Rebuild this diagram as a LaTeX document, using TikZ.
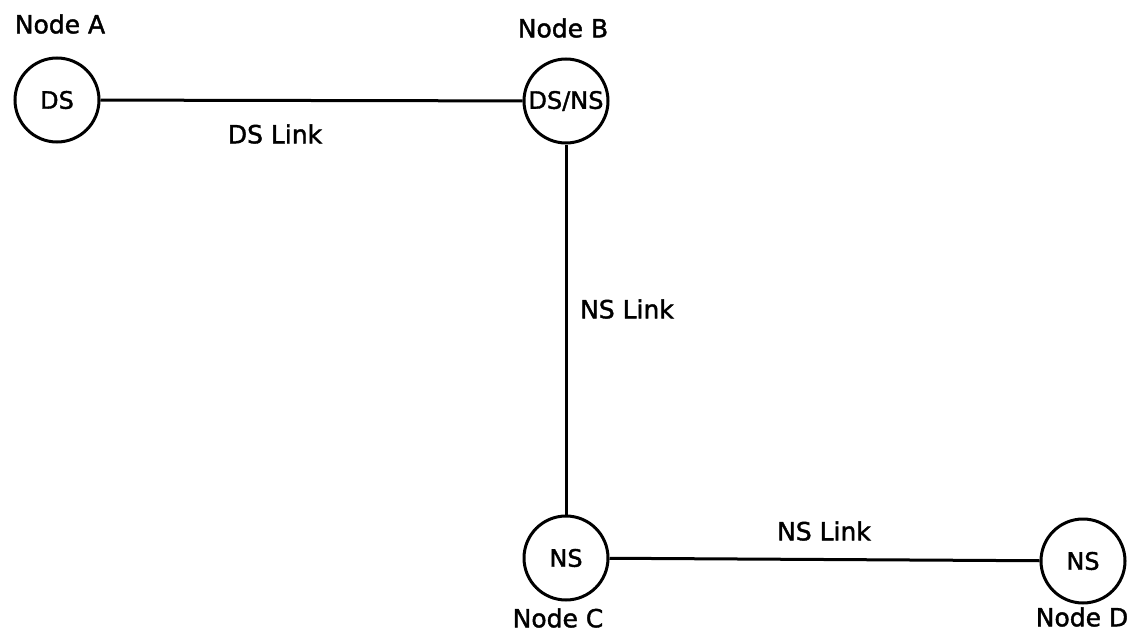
\documentclass[tikz,border=0pt]{standalone}
\usepackage{fontspec}
\setmainfont{DejaVu Sans}
\newfontfamily\diagfont{DejaVu Sans}[BoldFont=DejaVu Sans, BoldFeatures={FakeBold=1.6}]
\usetikzlibrary{positioning}
\tikzset{
  site/.style={draw, circle, line width=3pt, minimum size=84pt, inner sep=0pt, font=\diagfont\bfseries\fontsize{24}{28}\selectfont},
  tag/.style={font=\diagfont\bfseries\fontsize{25}{29}\selectfont},
  link/.style={line width=3pt}
}

\begin{document}
\begin{tikzpicture}[x=1pt,y=-1pt]
  \useasboundingbox (0,0) rectangle (1130,634);

  % sites
  \node[site] (nodeA) at (57,100) {DS};
  \node[site] (nodeB) at (566,101) {DS/NS};
  \node[site] (nodeC) at (566,558) {NS};
  \node[site] (nodeD) at (1083,561) {NS};

  % site names
  \node[tag] (nameA) at (60,24) {Node A};
  \node[tag] (nameB) at (563,28) {Node B};
  \node[tag] (nameC) at (558,618) {Node C};
  \node[tag] (nameD) at (1082,617) {Node D};

  % links
  \draw[link] (nodeA) -- (nodeB);
  \draw[link] (nodeB) -- (nodeC);
  \draw[link] (nodeC) -- (nodeD);
  \node[tag] (linkAB) at (275,134) {DS Link};
  \node[tag] (linkBC) at (627,309) {NS Link};
  \node[tag] (linkCD) at (824,531) {NS Link};
\end{tikzpicture}
\end{document}
